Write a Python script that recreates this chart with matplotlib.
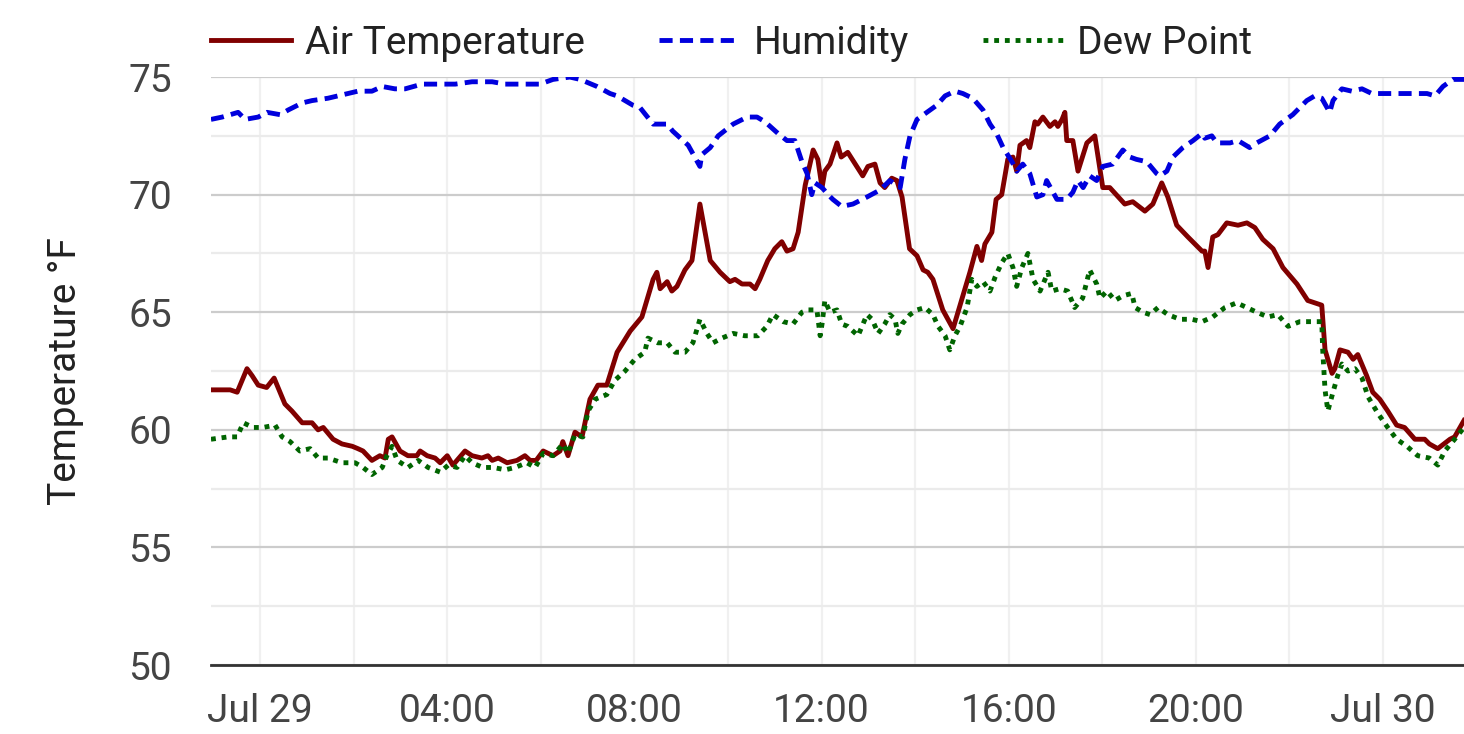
import matplotlib
matplotlib.use("Agg")
import matplotlib.pyplot as plt
import numpy as np

plt.rcParams['font.family'] = ['Roboto', 'DejaVu Sans']

# time in hours from Jul 29 00:00, values in deg F
air_t = [-1.05, -0.64, -0.49, -0.28, -0.17, -0.04, 0.14, 0.30, 0.53, 0.68, 0.90, 1.11, 1.24, 1.35,
         1.56, 1.75, 1.97, 2.09, 2.20, 2.39, 2.56, 2.67, 2.74, 2.82, 2.99, 3.16, 3.35, 3.42, 3.57,
         3.74, 3.85, 4.00, 4.12, 4.38, 4.53, 4.74, 4.87, 4.96, 5.09, 5.28, 5.49, 5.66, 5.77, 5.90,
         6.05, 6.26, 6.41, 6.47, 6.58, 6.73, 6.88, 7.05, 7.22, 7.41, 7.63, 7.91, 8.16, 8.40, 8.48,
         8.55, 8.70, 8.80, 8.91, 9.08, 9.23, 9.40, 9.51, 9.62, 9.83, 10.04, 10.15, 10.30, 10.47,
         10.58, 10.68, 10.85, 11.00, 11.15, 11.26, 11.39, 11.50, 11.65, 11.82, 11.92, 12.01, 12.07,
         12.18, 12.33, 12.42, 12.56, 12.88, 12.99, 13.14, 13.25, 13.35, 13.50, 13.61, 13.72, 13.88,
         14.04, 14.17, 14.27, 14.38, 14.59, 14.81, 15.02, 15.17, 15.32, 15.42, 15.49, 15.64, 15.73,
         15.85, 15.98, 16.09, 16.17, 16.24, 16.38, 16.45, 16.56, 16.62, 16.73, 16.88, 16.99, 17.05,
         17.14, 17.20, 17.24, 17.37, 17.48, 17.67, 17.84, 18.01, 18.16, 18.48, 18.65, 18.91, 19.08,
         19.27, 19.40, 19.59, 19.83, 19.98, 20.13, 20.19, 20.26, 20.36, 20.47, 20.66, 20.90, 21.09,
         21.26, 21.43, 21.65, 21.86, 22.16, 22.39, 22.54, 22.69, 22.76, 22.91, 22.97, 23.08, 23.25,
         23.36, 23.46, 23.65, 23.78, 23.93, 24.10, 24.29, 24.46, 24.68, 24.89, 24.99, 25.17, 25.43,
         25.53, 25.73]
air_v = [61.7, 61.7, 61.6, 62.6, 62.3, 61.9, 61.8, 62.2, 61.1, 60.8, 60.3, 60.3, 60.0, 60.1,
         59.6, 59.4, 59.3, 59.2, 59.1, 58.7, 58.9, 58.8, 59.6, 59.7, 59.1, 58.9, 58.9, 59.1, 58.9,
         58.8, 58.6, 58.9, 58.5, 59.1, 58.9, 58.8, 58.9, 58.7, 58.8, 58.6, 58.7, 58.9, 58.7, 58.7,
         59.1, 58.9, 59.1, 59.5, 58.9, 59.9, 59.7, 61.3, 61.9, 61.9, 63.3, 64.2, 64.8, 66.4, 66.7,
         66.0, 66.3, 65.9, 66.1, 66.8, 67.2, 69.6, 68.4, 67.2, 66.7, 66.3, 66.4, 66.2, 66.2,
         66.0, 66.4, 67.2, 67.7, 68.0, 67.6, 67.7, 68.4, 70.4, 71.9, 71.5, 70.3, 71.0,
         71.3, 72.2, 71.6, 71.8, 70.8, 71.2, 71.3, 70.5, 70.3, 70.7, 70.6, 69.9, 67.7,
         67.4, 66.8, 66.7, 66.4, 65.1, 64.3, 65.7, 66.7, 67.8, 67.2, 67.9, 68.4, 69.8,
         70.0, 71.5, 71.6, 71.0, 72.1, 72.3, 72.0, 73.1, 73.0, 73.3, 72.9, 73.1, 72.9,
         73.2, 73.5, 72.3, 72.3, 71.0, 72.2, 72.5, 70.3, 70.3, 69.6, 69.7, 69.3, 69.6,
         70.5, 69.9, 68.7, 68.2, 67.9, 67.6, 67.6, 66.9, 68.2, 68.3, 68.8, 68.7, 68.8,
         68.6, 68.1, 67.7, 66.9, 66.2, 65.5, 65.4, 65.3, 63.4, 62.4, 62.6, 63.4, 63.3,
         63.0, 63.2, 62.3, 61.6, 61.3, 60.8, 60.2, 60.1, 59.6, 59.6, 59.4, 59.2, 59.6,
         59.7, 60.4]

hum_t = [-1.05, -0.81, -0.47, -0.32, -0.04, 0.15, 0.43, 0.60, 0.90, 1.11, 1.45, 1.88, 2.09, 2.39,
         2.61, 2.88, 3.10, 3.46, 3.80, 4.17, 4.53, 4.96, 5.24, 5.66, 5.98, 6.26, 6.62, 6.84, 7.20,
         7.48, 7.63, 7.97, 8.12, 8.40, 8.70, 8.82, 9.04, 9.15, 9.40, 9.44, 9.62, 9.79, 10.11, 10.41,
         10.62, 10.79, 11.07, 11.26, 11.43, 11.58, 11.69, 11.79, 11.86, 12.01, 12.14, 12.24, 12.43,
         12.67, 12.97, 13.25, 13.46, 13.68, 13.78, 13.89, 14.04, 14.25, 14.46, 14.64, 14.85, 15.02,
         15.23, 15.45, 15.60, 15.74, 15.88, 16.07, 16.17, 16.30, 16.45, 16.60, 16.73, 16.81, 17.03,
         17.24, 17.37, 17.48, 17.59, 17.73, 17.88, 18.01, 18.22, 18.44, 18.59, 18.73, 18.95, 19.16,
         19.23, 19.38, 19.51, 19.72, 19.94, 20.13, 20.19, 20.34, 20.45, 20.73, 20.90, 21.15, 21.30,
         21.58, 21.79, 22.07, 22.37, 22.54, 22.69, 22.86, 22.93, 23.12, 23.33, 23.55, 23.76, 24.08,
         24.51, 24.94, 25.11, 25.28, 25.49, 25.73]
hum_v = [73.2, 73.3, 73.5, 73.2, 73.3, 73.5, 73.4, 73.6, 73.9, 74.0, 74.1, 74.3, 74.4, 74.4,
         74.6, 74.5, 74.5, 74.7, 74.7, 74.7, 74.8, 74.8, 74.7, 74.7, 74.7, 74.9, 75.0, 74.9, 74.6,
         74.3, 74.2, 73.8, 73.7, 73.0, 73.0, 72.7, 72.3, 72.1, 71.2, 71.7, 72.0, 72.5, 73.0, 73.3,
         73.3, 73.1, 72.6, 72.3, 72.3, 71.4, 70.9, 70.0, 70.5, 70.3, 70.0, 69.8, 69.5,
         69.6, 69.9, 70.2, 70.6, 70.3, 71.5, 72.5, 73.2, 73.5, 73.8, 74.2, 74.4, 74.3,
         74.1, 73.6, 73.0, 72.6, 72.0, 71.4, 71.0, 71.3, 70.9, 69.9, 70.0, 70.6, 69.8,
         69.8, 70.1, 70.6, 70.3, 70.8, 70.6, 71.2, 71.3, 71.9, 71.6, 71.5, 71.4, 70.9,
         70.8, 71.0, 71.6, 72.0, 72.3, 72.6, 72.4, 72.5, 72.2, 72.2, 72.3, 72.0, 72.2,
         72.5, 73.0, 73.4, 74.0, 74.2, 74.1, 73.5, 74.0, 74.5, 74.4, 74.5, 74.3, 74.3,
         74.3, 74.3, 74.2, 74.6, 74.9, 74.9]

dew_t = [-1.05, -0.68, -0.49, -0.36, -0.15, 0.06, 0.32, 0.47, 0.64, 0.85, 1.07, 1.24, 1.45, 1.75,
         2.03, 2.20, 2.39, 2.61, 2.71, 2.82, 2.93, 3.16, 3.38, 3.59, 3.85, 4.02, 4.21, 4.38, 4.53,
         4.76, 4.98, 5.24, 5.45, 5.70, 5.88, 6.05, 6.26, 6.47, 6.58, 6.73, 6.90, 7.01, 7.16, 7.41,
         7.58, 7.80, 8.01, 8.22, 8.29, 8.50, 8.70, 8.87, 9.08, 9.25, 9.40, 9.55, 9.68, 9.87, 10.11,
         10.36, 10.64, 10.83, 10.96, 11.18, 11.39, 11.58, 11.71, 11.90, 11.97, 12.01, 12.07, 12.18,
         12.33, 12.43, 12.56, 12.78, 12.97, 13.08, 13.21, 13.35, 13.46, 13.57, 13.63, 13.72, 13.89,
         14.04, 14.21, 14.38, 14.49, 14.64, 14.74, 14.85, 14.96, 15.11, 15.21, 15.32, 15.45, 15.60,
         15.71, 15.85, 15.98, 16.09, 16.17, 16.28, 16.41, 16.52, 16.67, 16.84, 16.92, 17.09, 17.26,
         17.41, 17.58, 17.73, 17.88, 17.95, 18.10, 18.27, 18.44, 18.63, 18.70, 18.87, 19.02, 19.19,
         19.40, 19.66, 19.91, 20.13, 20.36, 20.62, 20.87, 21.09, 21.30, 21.54, 21.75, 21.97, 22.22,
         22.50, 22.69, 22.71, 22.76, 22.82, 22.93, 23.03, 23.12, 23.25, 23.40, 23.55, 23.68, 23.89,
         24.10, 24.29, 24.51, 24.74, 24.99, 25.17, 25.32, 25.53, 25.73]
dew_v = [59.6, 59.7, 59.7, 60.3, 60.1, 60.1, 60.2, 59.7, 59.5, 59.1, 59.2, 58.8, 58.8, 58.6,
         58.6, 58.4, 58.1, 58.4, 58.9, 59.3, 58.7, 58.4, 58.7, 58.4, 58.2, 58.5, 58.4, 58.9, 58.6,
         58.4, 58.4, 58.3, 58.4, 58.6, 58.4, 59.0, 58.9, 59.4, 59.0, 59.8, 59.7, 60.8, 61.3, 61.5,
         62.1, 62.5, 63.0, 63.3, 63.9, 63.7, 63.7, 63.3, 63.3, 63.7, 64.7, 64.1, 63.7, 63.9, 64.1,
         64.0, 64.0, 64.4, 64.9, 64.6, 64.5, 65.0, 65.1, 65.1, 64.0, 64.5, 65.5, 65.0,
         65.1, 64.5, 64.4, 64.0, 64.9, 64.7, 64.1, 64.5, 64.9, 64.7, 64.1, 64.5, 64.9,
         65.1, 65.2, 64.9, 64.4, 64.0, 63.4, 64.0, 64.4, 65.2, 66.4, 66.1, 66.3, 65.9,
         66.5, 67.1, 67.5, 66.9, 66.1, 66.9, 67.5, 66.4, 65.9, 66.7, 65.9, 66.0, 65.9,
         65.2, 65.6, 66.8, 66.2, 65.6, 65.9, 65.5, 65.7, 65.8, 65.2, 65.0, 64.9, 65.2,
         64.9, 64.7, 64.7, 64.6, 64.8, 65.2, 65.4, 65.2, 65.0, 64.8, 64.9, 64.4, 64.6,
         64.6, 64.6, 63.4, 61.7, 60.8, 61.6, 62.3, 62.8, 62.5, 62.6, 62.2, 61.4, 60.7,
         60.1, 59.6, 59.3, 58.9, 58.8, 58.5, 59.1, 59.6, 60.1]

tick_hours = [0, 4, 8, 12, 16, 20, 24]
tick_labels = ['Jul 29', '04:00', '08:00', '12:00', '16:00', '20:00', 'Jul 30']

fig = plt.figure(figsize=(14.64, 7.34), dpi=100)
ax = fig.add_axes([0.1441, 0.094, 0.8559, 0.801])

ax.plot(air_t, air_v, color='#800000', lw=3.5, label='Air Temperature', zorder=3)
ax.plot(hum_t, hum_v, color='#0000dd', lw=3.5, dashes=(2.7, 1.5), label='Humidity', zorder=3)
ax.plot(dew_t, dew_v, color='#006400', lw=3.5, dashes=(1.0, 1.2), label='Dew Point', zorder=3)

ax.set_xlim(air_t[0], air_t[-1])
ax.set_ylim(50, 75)
ax.set_yticks([50, 55, 60, 65, 70, 75])
ax.set_yticks(np.arange(52.5, 75, 5), minor=True)
ax.set_xticks(tick_hours)
ax.set_xticklabels(tick_labels)
ax.set_xticks(np.arange(-0, 26, 2), minor=True)

ax.grid(which='major', axis='y', color='#cccccc', lw=1.6)
ax.grid(which='minor', axis='y', color='#ebebeb', lw=1.6)
ax.grid(which='both', axis='x', color='#f0f0f0', lw=1.6)
ax.set_axisbelow(True)

for s in ['top', 'right', 'left']:
    ax.spines[s].set_visible(False)
ax.spines['bottom'].set_color('#333333')
ax.spines['bottom'].set_linewidth(2)

ax.tick_params(which='both', length=0, labelsize=28, colors='#444444')
ax.tick_params(axis='x', pad=20)
ax.tick_params(axis='y', pad=28)
ax.set_ylabel('Temperature °F', fontsize=28, color='#222222', labelpad=32)

ax.legend(loc='lower left', bbox_to_anchor=(0, 1.026), ncol=3, frameon=False,
          fontsize=28, borderpad=0, borderaxespad=0, handlelength=2.05,
          handletextpad=0.38, columnspacing=1.9, labelcolor='#222222')

fig.savefig('out.png', dpi=100)
